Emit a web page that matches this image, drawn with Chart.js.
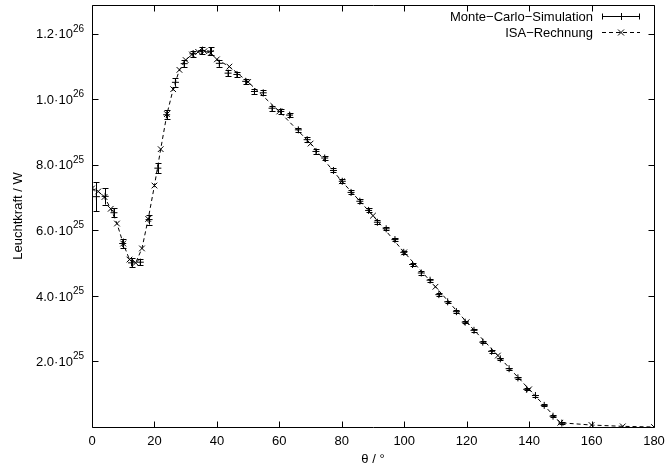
<!DOCTYPE html>
<html>
<head>
<meta charset="utf-8">
<script src="https://cdn.jsdelivr.net/npm/chart.js@4.4.1/dist/chart.umd.min.js"></script>
<style>
  html, body { margin: 0; padding: 0; background: #fff; }
  #wrap { width: 666px; height: 466px; }
</style>
</head>
<body>
<div id="wrap"><canvas id="plot"></canvas></div>
<script>
const FONT = '"Liberation Sans", Arial, Helvetica, sans-serif';
const UNIT = 1e25; // luminosity values below are in units of 1e25 W

// Monte-Carlo simulation: bin centres (deg), luminosity, statistical error
const mcTheta = [1.41, 4.22, 7.03, 9.84, 12.66, 15.47, 18.28, 21.09, 23.91, 26.72,
  29.53, 32.34, 35.16, 37.97, 40.78, 43.59, 46.41, 49.22, 52.03, 54.84,
  57.66, 60.47, 63.28, 66.09, 68.91, 71.72, 74.53, 77.34, 80.16, 82.97,
  85.78, 88.59, 91.41, 94.22, 97.03, 99.84, 102.66, 105.47, 108.28, 111.09,
  113.91, 116.72, 119.53, 122.34, 125.16, 127.97, 130.78, 133.59, 136.41, 139.22,
  142.03, 144.84, 147.66, 150.47];
const mcLum = [7.03, 7.04, 6.54, 5.60, 5.01, 5.03, 6.33, 7.90, 9.53, 10.52,
  11.09, 11.39, 11.49, 11.47, 11.10, 10.80, 10.76, 10.55, 10.24, 10.20,
  9.73, 9.63, 9.52, 9.07, 8.77, 8.41, 8.21, 7.83, 7.50, 7.16,
  6.89, 6.61, 6.25, 6.05, 5.72, 5.33, 4.96, 4.70, 4.48, 4.04,
  3.82, 3.52, 3.20, 2.95, 2.59, 2.31, 2.08, 1.78, 1.50, 1.15,
  0.96, 0.66, 0.33, 0.12];
const mcErr = [0.44, 0.25, 0.13, 0.15, 0.14, 0.10, 0.15, 0.15, 0.14, 0.13,
  0.10, 0.10, 0.12, 0.12, 0.10, 0.10, 0.08, 0.08, 0.08, 0.08,
  0.08, 0.07, 0.07, 0.07, 0.07, 0.07, 0.06, 0.06, 0.06, 0.06,
  0.06, 0.06, 0.06, 0.05, 0.05, 0.05, 0.05, 0.05, 0.05, 0.05,
  0.04, 0.04, 0.04, 0.04, 0.04, 0.04, 0.04, 0.03, 0.03, 0.03,
  0.03, 0.03, 0.03, 0.02];

// ISA calculation
const isaTheta = [0, 2, 4, 6, 8, 10, 12, 14, 16, 18, 20, 22, 24, 26, 28, 30, 32, 34, 36, 38,
  40, 44, 50, 60, 70, 80, 90, 100, 110, 120, 130, 140, 150, 160, 170, 180];
const isaLum = [7.28, 7.19, 7.02, 6.66, 6.21, 5.60, 5.11, 5.01, 5.45, 6.35,
  7.37, 8.48, 9.55, 10.31, 10.90, 11.20, 11.37, 11.45, 11.47, 11.41,
  11.22, 11.00, 10.53, 9.63, 8.65, 7.50, 6.45, 5.33, 4.28, 3.20,
  2.18, 1.15, 0.13, 0.06, 0.02, 0.00];

const xTicks = [0, 20, 40, 60, 80, 100, 120, 140, 160, 180];
const yTicks = [2e25, 4e25, 6e25, 8e25, 1e26, 1.2e26];
const seriesNames = ['Monte\u2212Carlo\u2212Simulation', 'ISA\u2212Rechnung'];

const TICK = 6;

// "1.2·10^26" style labels with a raised exponent
function splitSci(v) {
  const exp = Math.floor(Math.log10(v) + 1e-9);
  const mant = v / Math.pow(10, exp);
  return [mant.toFixed(1) + '\u00b710', String(exp)];
}

const framePlugin = {
  id: 'frame',
  afterDatasetsDraw(chart) {
    const { ctx, chartArea: a, scales: { x, y } } = chart;
    ctx.save();
    ctx.strokeStyle = '#000';
    ctx.lineWidth = 1;

    // error bars of the simulation
    ctx.beginPath();
    mcTheta.forEach((t, i) => {
      const px = Math.round(x.getPixelForValue(t)) + 0.5;
      const yTop = y.getPixelForValue((mcLum[i] + mcErr[i]) * UNIT);
      const yBot = y.getPixelForValue((mcLum[i] - mcErr[i]) * UNIT);
      ctx.moveTo(px, yTop); ctx.lineTo(px, yBot);
      ctx.moveTo(px - 3, Math.round(yTop) + 0.5); ctx.lineTo(px + 3, Math.round(yTop) + 0.5);
      ctx.moveTo(px - 3, Math.round(yBot) + 0.5); ctx.lineTo(px + 3, Math.round(yBot) + 0.5);
    });
    ctx.stroke();

    // border and inward ticks on all four sides
    const L = Math.round(a.left) + 0.5, R = Math.round(a.right) + 0.5;
    const T = Math.round(a.top) + 0.5, B = Math.round(a.bottom) + 0.5;
    ctx.beginPath();
    ctx.rect(L, T, R - L, B - T);
    xTicks.forEach(t => {
      const px = Math.round(x.getPixelForValue(t)) + 0.5;
      ctx.moveTo(px, B); ctx.lineTo(px, B - TICK);
      ctx.moveTo(px, T); ctx.lineTo(px, T + TICK);
    });
    yTicks.forEach(v => {
      const py = Math.round(y.getPixelForValue(v)) + 0.5;
      ctx.moveTo(L, py); ctx.lineTo(L + TICK, py);
      ctx.moveTo(R, py); ctx.lineTo(R - TICK, py);
    });
    ctx.stroke();

    // y tick labels
    ctx.fillStyle = '#000';
    ctx.textAlign = 'right';
    yTicks.forEach(v => {
      const py = y.getPixelForValue(v);
      const [m, e] = splitSci(v);
      ctx.font = '10px ' + FONT;
      const ew = ctx.measureText(e).width;
      ctx.textBaseline = 'alphabetic';
      ctx.fillText(e, 84, py - 2);
      ctx.font = '13px ' + FONT;
      ctx.textBaseline = 'middle';
      ctx.fillText(m, 84 - ew, py + 1);
    });

    // key, top right
    const textRight = 593, s0 = 602, s1 = 640, sm = 621;
    const rows = [16, 32];
    ctx.font = '13px ' + FONT;
    ctx.textBaseline = 'middle';
    ctx.textAlign = 'right';
    seriesNames.forEach((n, i) => ctx.fillText(n, textRight, rows[i] + 1));

    ctx.beginPath();
    const r0 = rows[0] + 0.5;
    ctx.moveTo(s0, r0); ctx.lineTo(s1, r0);
    ctx.moveTo(s0 + 0.5, r0 - 3); ctx.lineTo(s0 + 0.5, r0 + 3);
    ctx.moveTo(s1 - 0.5, r0 - 3); ctx.lineTo(s1 - 0.5, r0 + 3);
    ctx.moveTo(sm + 0.5, r0 - 3.5); ctx.lineTo(sm + 0.5, r0 + 3.5);
    ctx.stroke();

    const r1 = rows[1] + 0.5;
    ctx.beginPath();
    ctx.setLineDash([4, 3]);
    ctx.moveTo(s0, r1); ctx.lineTo(s1, r1);
    ctx.stroke();
    ctx.setLineDash([]);
    ctx.beginPath();
    ctx.moveTo(sm - 3, r1 - 3); ctx.lineTo(sm + 3, r1 + 3);
    ctx.moveTo(sm - 3, r1 + 3); ctx.lineTo(sm + 3, r1 - 3);
    ctx.stroke();
    ctx.restore();
  }
};

new Chart(document.getElementById('plot'), {
  type: 'scatter',
  data: {
    datasets: [
      {
        label: seriesNames[0],
        data: mcTheta.map((t, i) => ({ x: t, y: mcLum[i] * UNIT })),
        showLine: false,
        pointStyle: 'cross',
        pointRadius: 3.5,
        borderColor: '#000',
        backgroundColor: '#000',
        borderWidth: 1
      },
      {
        label: seriesNames[1],
        data: isaTheta.map((t, i) => ({ x: t, y: isaLum[i] * UNIT })),
        showLine: true,
        borderDash: [4, 3],
        borderColor: '#000',
        backgroundColor: '#000',
        borderWidth: 1,
        tension: 0,
        pointStyle: 'crossRot',
        pointRadius: 4,
        pointBorderWidth: 1
      }
    ]
  },
  options: {
    responsive: true,
    maintainAspectRatio: false,
    animation: false,
    devicePixelRatio: 1,
    layout: { padding: { top: 5, right: 0, left: 0, bottom: 0 } },
    plugins: { legend: { display: false }, tooltip: { enabled: false } },
    scales: {
      x: {
        type: 'linear',
        min: 0,
        max: 180,
        afterBuildTicks: s => { s.ticks = xTicks.map(v => ({ value: v })); },
        afterFit: s => { s.height = 39; s.paddingRight = 12; },
        grid: { display: false, drawTicks: false },
        border: { display: false },
        ticks: { color: '#000', font: { family: FONT, size: 13 }, padding: 7, maxRotation: 0 },
        title: {
          display: true,
          text: '\u03b8 / \u00b0',
          color: '#000',
          font: { family: FONT, size: 13, lineHeight: 1 },
          padding: { top: 0, bottom: 0 }
        }
      },
      y: {
        type: 'linear',
        min: 0,
        max: 1.288e26,
        afterBuildTicks: s => { s.ticks = yTicks.map(v => ({ value: v })); },
        afterFit: s => { s.width = 92; },
        grid: { display: false, drawTicks: false },
        border: { display: false },
        ticks: { display: false },
        title: {
          display: true,
          text: 'Leuchtkraft / W',
          color: '#000',
          font: { family: FONT, size: 13, lineHeight: 1 },
          padding: { top: 12, bottom: 0 }
        }
      }
    }
  },
  plugins: [framePlugin]
});
</script>
</body>
</html>
